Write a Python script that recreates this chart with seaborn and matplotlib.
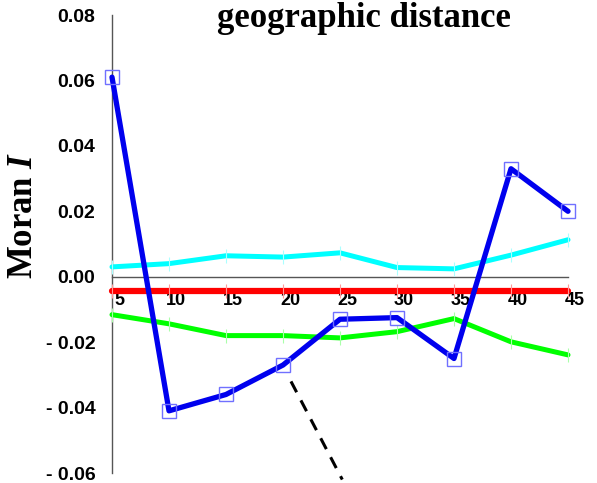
import matplotlib
matplotlib.use('Agg')
import matplotlib.pyplot as plt
import matplotlib.transforms as mtransforms
import pandas as pd
import seaborn as sns

# distance classes and Moran's I values
distance = [5, 10, 15, 20, 25, 30, 35, 40, 45]
blue_vals = [0.061, -0.041, -0.036, -0.027, -0.013, -0.0125, -0.025, 0.033, 0.020]
cyan_vals = [0.003, 0.004, 0.0064, 0.006, 0.0073, 0.0028, 0.0024, 0.0066, 0.0113]
green_vals = [-0.0116, -0.0144, -0.018, -0.018, -0.0187, -0.0168, -0.0128, -0.0199, -0.0239]
red_vals = [-0.0043] * 9
dash_x = [20.7, 25.2]
dash_y = [-0.032, -0.062]

yticks = [0.08, 0.06, 0.04, 0.02, 0.00, -0.02, -0.04, -0.06]
ytick_labels = ['0.08', '0.06', '0.04', '0.02', '0.00', '- 0.02', '- 0.04', '- 0.06']

sns.set_style('white')
plt.rcParams['font.family'] = ['Liberation Sans', 'DejaVu Sans']
plt.rcParams['text.color'] = 'black'
plt.rcParams['xtick.labelcolor'] = 'black'
plt.rcParams['ytick.labelcolor'] = 'black'
plt.rcParams['mathtext.fontset'] = 'custom'
plt.rcParams['mathtext.it'] = 'Liberation Serif:bold:italic'
plt.rcParams['mathtext.rm'] = 'Liberation Serif:bold'

df = pd.DataFrame({'distance': distance, 'blue': blue_vals, 'cyan': cyan_vals,
                   'green': green_vals, 'red': red_vals})

fig = plt.figure(figsize=(5.97, 4.83), dpi=100)
ax = fig.add_axes([112 / 597, 10 / 483, 456 / 597, 458 / 483])

sns.lineplot(data=df, x='distance', y='red', ax=ax, color='#ff0000', lw=4.5,
             marker='|', ms=10, mec='#ff9999', mew=0.8, clip_on=False, zorder=3)
sns.lineplot(data=df, x='distance', y='cyan', ax=ax, color='#00ffff', lw=3.6,
             marker='|', ms=10, mec='#aaffff', mew=0.8, clip_on=False, zorder=3)
sns.lineplot(data=df, x='distance', y='green', ax=ax, color='#00ff00', lw=3.6,
             marker='|', ms=10, mec='#aaffaa', mew=0.8, clip_on=False, zorder=3)
sns.lineplot(x=dash_x, y=dash_y, ax=ax, color='black', lw=2.2, linestyle=(0, (4, 3)),
             clip_on=False, zorder=3)
sns.lineplot(data=df, x='distance', y='blue', ax=ax, color='#0000ee', lw=3.8,
             marker='s', ms=10, mfc='none', mec='#7070ff', mew=1.0, clip_on=False, zorder=4)

ax.set_xlim(5, 45)
ax.set_ylim(-0.06, 0.08)
ax.set_xlabel('')
ax.set_ylabel('')

# axis cross at zero
ax.spines['bottom'].set_position(('data', 0))
ax.spines['top'].set_visible(False)
ax.spines['right'].set_visible(False)
for s in ['left', 'bottom']:
    ax.spines[s].set_color('#555555')
    ax.spines[s].set_linewidth(1.0)

ax.set_xticks(distance)
ax.set_xticklabels([str(d) for d in distance])
ax.tick_params(axis='x', direction='in', length=10, color='#888888', pad=11,
               labelsize=13, labelcolor='black')
ax.set_yticks(yticks)
ax.set_yticklabels(ytick_labels)
ax.tick_params(axis='y', direction='inout', length=8, color='#888888', pad=8,
               labelsize=14, labelcolor='black')
for lbl in ax.get_xticklabels() + ax.get_yticklabels():
    lbl.set_fontweight('bold')
shift = mtransforms.ScaledTranslation(7 / 100, 0, fig.dpi_scale_trans)
for lbl in ax.get_xticklabels():
    lbl.set_transform(lbl.get_transform() + shift)

fig.text(364 / 597, 1 - 27 / 483, 'geographic distance', ha='center', va='baseline',
         fontsize=25, fontweight='bold', family='Liberation Serif', color='black')
fig.text(24 / 597, 1 - 215 / 483, 'Moran $I$', ha='center', va='center', rotation=90,
         fontsize=25, fontweight='bold', family='Liberation Serif', color='black')

fig.savefig('out.png', dpi=100)
